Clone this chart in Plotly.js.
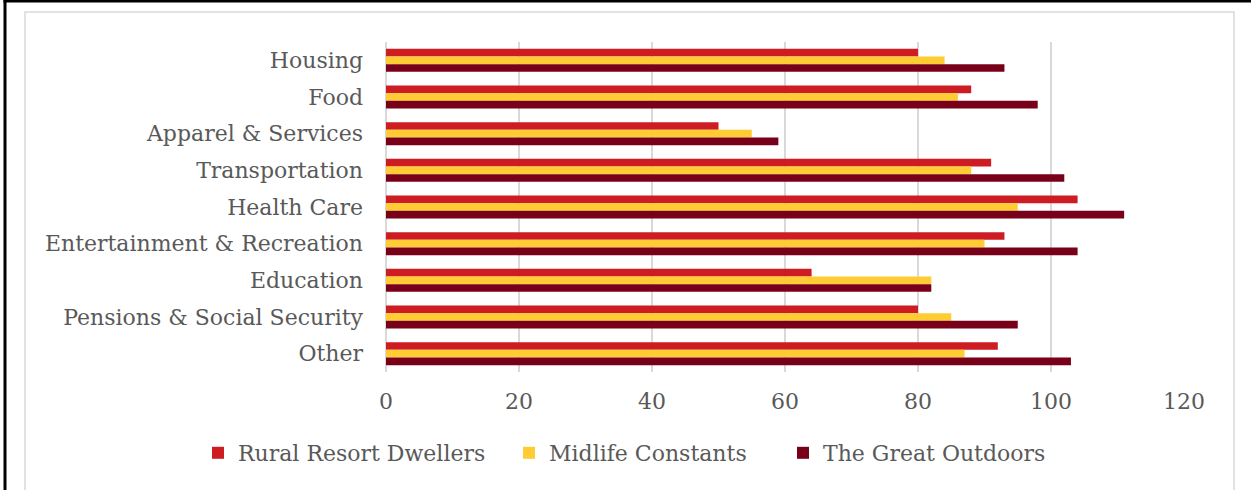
<!DOCTYPE html>
<html>
<head>
<meta charset="utf-8">
<script src="https://cdn.plot.ly/plotly-3.0.1.min.js"></script>
<style>
  html, body { margin: 0; padding: 0; background: #ffffff; }
  #chart { width: 1251px; height: 490px; }
</style>
</head>
<body>
<div id="chart"></div>
<script>
// Spending index by category for three consumer segments
const categories = [
  "Housing",
  "Food",
  "Apparel & Services",
  "Transportation",
  "Health Care",
  "Entertainment & Recreation",
  "Education",
  "Pensions & Social Security",
  "Other"
];
const ruralResortDwellers = [80, 88, 50, 91, 104, 93, 64, 80, 92];
const midlifeConstants    = [84, 86, 55, 88, 95, 90, 82, 85, 87];
const greatOutdoors       = [93, 98, 59, 102, 111, 104, 82, 95, 103];
const seriesNames = ["Rural Resort Dwellers", "Midlife Constants", "The Great Outdoors"];
const xTicks = [0, 20, 40, 60, 80, 100, 120];

const FONT = "DejaVu Serif, serif";
const TEXT = "#595959";
const GRID = "#d9d9d9";
const colors = ["#CD1D23", "#FFCC33", "#780018"];
const seriesValues = [ruralResortDwellers, midlifeConstants, greatOutdoors];
const legendIds = ["legend", "legend2", "legend3"];

const traces = seriesValues.map((vals, i) => ({
  type: "bar",
  orientation: "h",
  name: seriesNames[i],
  x: vals,
  y: categories,
  marker: { color: colors[i], line: { width: 0 } },
  legend: legendIds[i],
  hoverinfo: "x+name"
}));

// plot area in pixels: left 386, right 1184, top 42, bottom 372
const L = 386, R = 1184, T = 42, B = 372, W = 1251, H = 490;
const px = v => (v - L) / (R - L);
const py = v => (B - v) / (B - T);

function legendAt(xPix) {
  return {
    orientation: "h",
    x: px(xPix), xanchor: "left",
    y: py(453), yanchor: "middle",
    font: { family: FONT, size: 22, color: TEXT },
    bgcolor: "rgba(0,0,0,0)",
    itemwidth: 30,
    traceorder: "normal"
  };
}

const layout = {
  width: W,
  height: H,
  margin: { l: L, r: W - R, t: T, b: H - B, pad: 0 },
  paper_bgcolor: "#ffffff",
  plot_bgcolor: "#ffffff",
  barmode: "group",
  bargap: 0.373,
  bargroupgap: 0,
  showlegend: true,
  legend: legendAt(198),
  legend2: legendAt(509),
  legend3: legendAt(783),
  xaxis: {
    range: [0, 120],
    tickvals: xTicks,
    ticktext: xTicks.map(String),
    showgrid: true,
    gridcolor: GRID,
    gridwidth: 1.3,
    zeroline: true,
    zerolinecolor: GRID,
    zerolinewidth: 1.3,
    showline: false,
    ticks: "",
    ticklabelstandoff: 14,
    tickfont: { family: FONT, size: 22, color: TEXT },
    fixedrange: true
  },
  yaxis: {
    type: "category",
    categoryorder: "array",
    categoryarray: categories,
    autorange: "reversed",
    showgrid: false,
    zeroline: false,
    showline: false,
    ticks: "",
    ticklabelstandoff: 22,
    tickfont: { family: FONT, size: 22, color: TEXT },
    fixedrange: true
  },
  shapes: [
    // chart area frame
    { type: "rect", xref: "paper", yref: "paper",
      x0: px(25), x1: px(1234), y0: py(520), y1: py(12),
      line: { color: GRID, width: 1.5 }, fillcolor: "rgba(0,0,0,0)", layer: "below" },
    // outer black edges
    { type: "line", xref: "paper", yref: "paper",
      x0: px(5), x1: px(5), y0: py(0), y1: py(H + 5),
      line: { color: "#000000", width: 3 } },
    { type: "line", xref: "paper", yref: "paper",
      x0: px(3.5), x1: px(W + 5), y0: py(1), y1: py(1),
      line: { color: "#000000", width: 3 } }
  ]
};

Plotly.newPlot("chart", traces, layout, { displayModeBar: false, staticPlot: true });
</script>
</body>
</html>
